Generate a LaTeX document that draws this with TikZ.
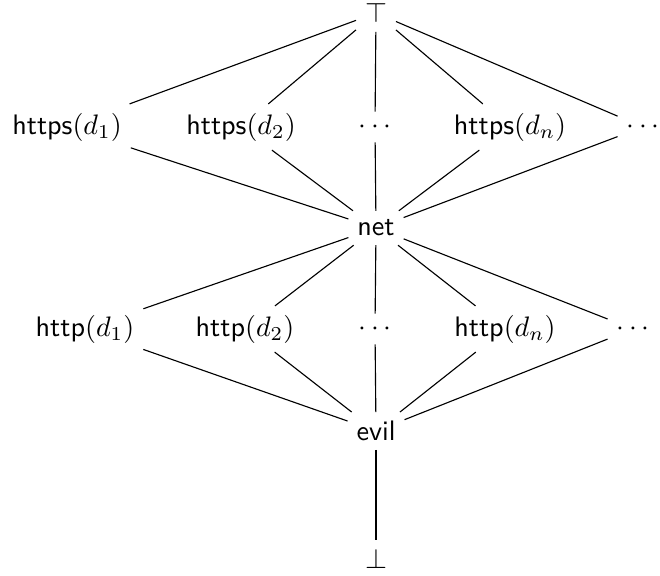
\documentclass[tikz,border=0pt]{standalone}
\usepackage{tikz}
\tikzset{lat/.style={inner sep=3pt}}

\begin{document}
\begin{tikzpicture}[x=0.355pt,y=-0.355pt]
  \useasboundingbox (0,0) rectangle (660,576);
  % top, https row, net, http row, evil, bottom
  \node[lat] (top) at (376,13) {$\top$};
  \node[lat] (s1) at (67,127)  {\textsf{https}$(d_1)$};
  \node[lat] (s2) at (241,127) {\textsf{https}$(d_2)$};
  \node[lat] (sd) at (375,127) {$\cdots$};
  \node[lat] (sn) at (510,127) {\textsf{https}$(d_n)$};
  \node[lat] (se) at (643,127) {$\cdots$};
  \node[lat] (net) at (376,228) {\textsf{net}};
  \node[lat] (t1) at (85,329)  {\textsf{http}$(d_1)$};
  \node[lat] (t2) at (245,329) {\textsf{http}$(d_2)$};
  \node[lat] (td) at (375,329) {$\cdots$};
  \node[lat] (tn) at (505,329) {\textsf{http}$(d_n)$};
  \node[lat] (te) at (633,329) {$\cdots$};
  \node[lat] (evil) at (376,431) {\textsf{evil}};
  \node[lat] (bot) at (376,559) {$\bot$};
  \foreach \n in {s1,s2,sd,sn,se} \draw (top) -- (\n) -- (net);
  \foreach \n in {t1,t2,td,tn,te} \draw (net) -- (\n) -- (evil);
  \draw (evil) -- (bot);
\end{tikzpicture}
\end{document}
